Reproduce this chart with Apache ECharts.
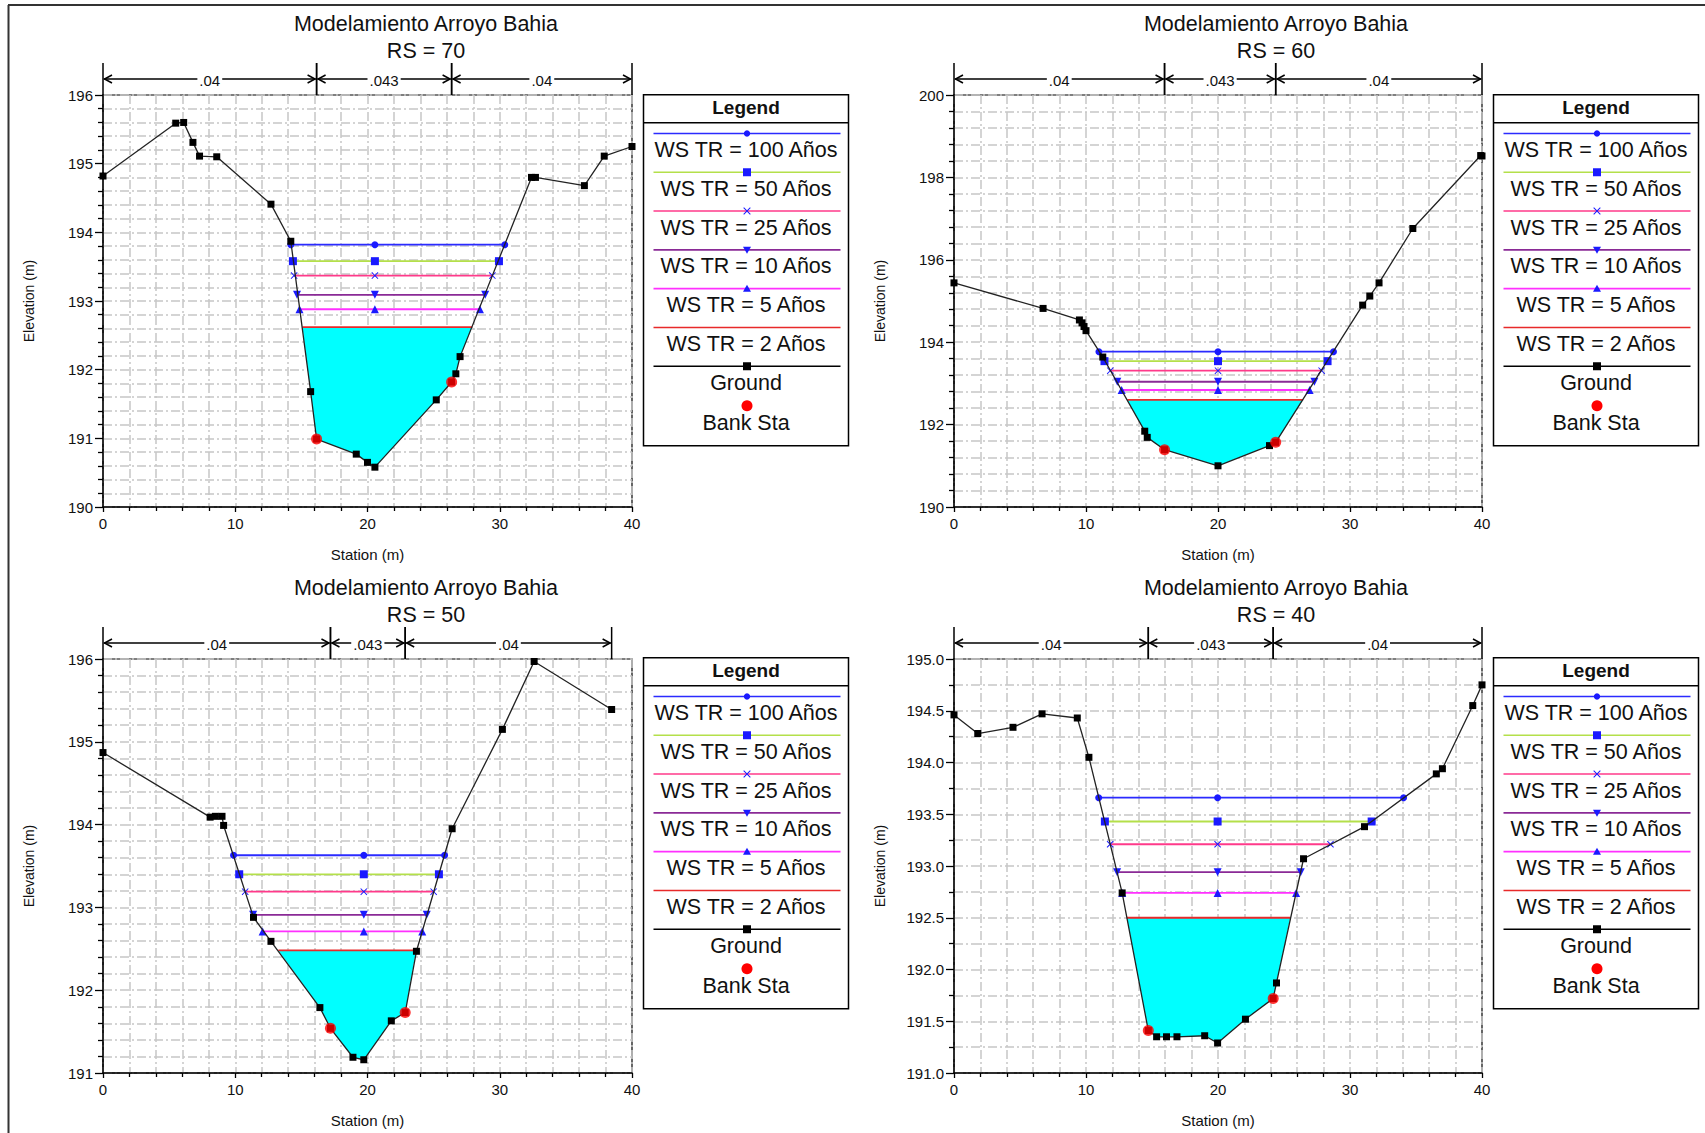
<!DOCTYPE html>
<html><head><meta charset="utf-8">
<script src="https://cdn.jsdelivr.net/npm/echarts@6/dist/echarts.min.js"></script>
<style>html,body{margin:0;padding:0;background:#fff}#c{width:1705px;height:1133px}</style>
</head><body><div id="c"></div>
<script>
// ---------------- DATA ----------------
const chartTitle = 'Modelamiento Arroyo Bahia';
const sectionNames = ['RS = 70', 'RS = 60', 'RS = 50', 'RS = 40'];
const wsNames = ['WS TR = 100 Años', 'WS TR = 50 Años', 'WS TR = 25 Años', 'WS TR = 10 Años', 'WS TR = 5 Años', 'WS TR = 2 Años'];
const groundName = 'Ground';
const bankName = 'Bank Sta';
const manningValues = ['.04', '.043', '.04'];
const xAxisName = 'Station (m)';
const yAxisName = 'Elevation (m)';

// RS = 70
const rs70GroundX = [0, 5.5, 6.1, 6.8, 7.3, 8.6, 12.7, 14.2, 15.7, 16.15, 19.15, 20.0, 20.56, 25.2, 26.36, 26.68, 27.0, 32.4, 32.7, 36.4, 37.9, 40];
const rs70GroundY = [194.82, 195.59, 195.6, 195.31, 195.11, 195.1, 194.41, 193.87, 191.68, 190.99, 190.77, 190.65, 190.58, 191.56, 191.82, 191.94, 192.19, 194.8, 194.8, 194.68, 195.11, 195.25];
const rs70BankX = [16.15, 26.36];
const rs70BankY = [190.99, 191.82];
const rs70WsLevel = [193.82, 193.58, 193.37, 193.09, 192.88, 192.62];
const rs70WsLeft = [14.2, 14.36, 14.45, 14.67, 14.86, 15.08];
const rs70WsRight = [30.38, 29.94, 29.44, 28.9, 28.5, 27.93];
const rs70WsMid = 20.56;
const rs70Manning = [0, 16.15, 26.36, 40];

// RS = 60
const rs60GroundX = [0, 6.75, 9.5, 9.7, 9.85, 10.0, 11.27, 14.45, 14.64, 15.95, 20.0, 23.9, 24.37, 30.96, 31.5, 32.2, 34.76, 39.9, 40];
const rs60GroundY = [195.44, 194.82, 194.54, 194.47, 194.38, 194.28, 193.64, 191.84, 191.69, 191.39, 191.0, 191.49, 191.57, 194.9, 195.12, 195.44, 196.76, 198.53, 198.52];
const rs60BankX = [15.95, 24.37];
const rs60BankY = [191.39, 191.57];
const rs60WsLevel = [193.77, 193.54, 193.31, 193.04, 192.84, 192.6];
const rs60WsLeft = [10.98, 11.4, 11.84, 12.37, 12.7, 13.13];
const rs60WsRight = [28.75, 28.3, 27.85, 27.3, 26.94, 26.45];
const rs60WsMid = 20.0;
const rs60Manning = [0, 15.95, 24.37, 40];

// RS = 50
const rs50GroundX = [0, 8.1, 8.5, 9.0, 9.12, 11.38, 12.7, 16.4, 17.2, 18.9, 19.72, 21.8, 22.85, 23.7, 26.4, 30.2, 32.6, 38.46];
const rs50GroundY = [194.87, 194.09, 194.1, 194.1, 193.99, 192.88, 192.59, 191.79, 191.54, 191.19, 191.16, 191.63, 191.73, 192.47, 193.95, 195.15, 195.97, 195.39];
const rs50BankX = [17.2, 22.85];
const rs50BankY = [191.54, 191.73];
const rs50WsLevel = [193.63, 193.4, 193.19, 192.91, 192.71, 192.48];
const rs50WsLeft = [9.87, 10.3, 10.75, 11.35, 12.07, 13.26];
const rs50WsRight = [25.83, 25.4, 25.0, 24.48, 24.14, 23.67];
const rs50WsMid = 19.72;
const rs50Manning = [0, 17.2, 22.85, 38.46];

// RS = 40
const rs40GroundX = [0, 1.8, 4.47, 6.67, 9.34, 10.22, 12.74, 14.72, 15.35, 16.1, 16.89, 18.99, 19.97, 22.08, 24.18, 24.43, 26.48, 31.1, 36.54, 37.0, 39.3, 40];
const rs40GroundY = [194.46, 194.28, 194.34, 194.47, 194.43, 194.05, 192.74, 191.41, 191.35, 191.35, 191.35, 191.36, 191.29, 191.52, 191.72, 191.87, 193.07, 193.38, 193.89, 193.94, 194.55, 194.75];
const rs40BankX = [14.72, 24.18];
const rs40BankY = [191.41, 191.72];
const rs40WsLevel = [193.66, 193.43, 193.21, 192.94, 192.74, 192.5];
const rs40WsLeft = [10.96, 11.43, 11.83, 12.36, 12.74, 13.1];
const rs40WsRight = [34.06, 31.64, 28.52, 26.27, 25.92, 25.47];
const rs40WsMid = 19.97;
const rs40Manning = [0, 14.72, 24.18, 40];

// axis ranges
const xMin = 0, xMax = 40, xStep = 10;
const yMins = [190, 190, 191, 191];
const yMaxs = [196, 200, 196, 195];
const ySteps = [1, 2, 1, 0.5];
const yMinorSplits = [5, 5, 5, 2];
const yDecimals = [0, 0, 0, 1];

// ---------------- STYLE / LAYOUT ----------------
const FONT = '"Liberation Sans", Arial, Helvetica, sans-serif';
const gridRects = [
  {left: 103, top: 95, width: 529, height: 412},
  {left: 954, top: 95, width: 528, height: 412},
  {left: 103, top: 659, width: 529, height: 414},
  {left: 954, top: 659, width: 528, height: 414}
];
const titleCenters = [[421, 5], [1271, 5], [421, 569], [1271, 569]];
const legendPos = [[641, 94], [1491, 94], [641, 657], [1491, 657]];
const wsLineColors = ['#2b2bff', '#b4e04a', '#ff3a8a', '#8a2a96', '#ff30ff', '#e82a2a'];
const markerBlue = '#1a1aff';
const PATH_X = 'path://M0,1L1,0L5,4L9,0L10,1L6,5L10,9L9,10L5,6L1,10L0,9L4,5Z';
const PATH_TRI_DOWN = 'path://M0,0L10,0L5,9Z';
const wsSymbols = ['circle', 'rect', PATH_X, PATH_TRI_DOWN, 'triangle', 'none'];
const wsSymbolSizes = [7, 8, 7, 8, 8, 0];
const gridLineStyle = {color: '#c6c6c6', width: 1.5, type: [9, 3, 2, 3]};

const panels = [
  {gx: rs70GroundX, gy: rs70GroundY, bx: rs70BankX, by: rs70BankY, lvl: rs70WsLevel, wl: rs70WsLeft, wr: rs70WsRight, wm: rs70WsMid, nb: rs70Manning},
  {gx: rs60GroundX, gy: rs60GroundY, bx: rs60BankX, by: rs60BankY, lvl: rs60WsLevel, wl: rs60WsLeft, wr: rs60WsRight, wm: rs60WsMid, nb: rs60Manning},
  {gx: rs50GroundX, gy: rs50GroundY, bx: rs50BankX, by: rs50BankY, lvl: rs50WsLevel, wl: rs50WsLeft, wr: rs50WsRight, wm: rs50WsMid, nb: rs50Manning},
  {gx: rs40GroundX, gy: rs40GroundY, bx: rs40BankX, by: rs40BankY, lvl: rs40WsLevel, wl: rs40WsLeft, wr: rs40WsRight, wm: rs40WsMid, nb: rs40Manning}
];

function zip(a, b) { return a.map((v, i) => [v, b[i]]); }
function wetPolygon(gx, gy, xl, xr, lvl) {
  const pts = [[xl, lvl]];
  for (let i = 0; i < gx.length; i++) if (gx[i] > xl && gx[i] < xr) pts.push([gx[i], gy[i]]);
  pts.push([xr, lvl]);
  return pts;
}

const grids = [], xAxes = [], yAxes = [], series = [], titles = [], graphics = [];

panels.forEach((p, i) => {
  grids.push(Object.assign({show: true, borderColor: '#000', borderWidth: 1.2, backgroundColor: 'transparent'}, gridRects[i]));
  titles.push({
    text: chartTitle + '\n' + sectionNames[i], left: titleCenters[i][0], top: titleCenters[i][1], textAlign: 'center',
    textStyle: {fontFamily: FONT, fontSize: 21.5, fontWeight: 'normal', color: '#111', lineHeight: 27}
  });
  xAxes.push({
    type: 'value', gridIndex: i, min: xMin, max: xMax, interval: xStep,
    name: xAxisName, nameLocation: 'middle', nameGap: 40,
    nameTextStyle: {fontFamily: FONT, fontSize: 15, color: '#111'},
    axisLine: {show: true, onZero: false, lineStyle: {color: '#000', width: 1.5}},
    axisTick: {show: true, inside: false, length: 5, lineStyle: {color: '#000', width: 1.3}},
    minorTick: {show: true, splitNumber: 5, length: 4, lineStyle: {color: '#000', width: 1.3}},
    splitLine: {show: true, lineStyle: gridLineStyle},
    minorSplitLine: {show: true, lineStyle: gridLineStyle},
    axisLabel: {fontFamily: FONT, fontSize: 15, color: '#111', margin: 9}
  });
  yAxes.push({
    type: 'value', gridIndex: i, min: yMins[i], max: yMaxs[i], interval: ySteps[i],
    name: yAxisName, nameLocation: 'middle', nameGap: 67, nameRotate: 90,
    nameTextStyle: {fontFamily: FONT, fontSize: 14, color: '#111'},
    axisLine: {show: true, onZero: false, lineStyle: {color: '#000', width: 1.5}},
    axisTick: {show: true, inside: false, length: 8, lineStyle: {color: '#000', width: 1.3}},
    minorTick: {show: true, splitNumber: yMinorSplits[i], length: 5, lineStyle: {color: '#000', width: 1.3}},
    splitLine: {show: true, lineStyle: gridLineStyle},
    minorSplitLine: {show: true, lineStyle: gridLineStyle},
    axisLabel: {fontFamily: FONT, fontSize: 15, color: '#111', margin: 10,
      formatter: v => v.toFixed(yDecimals[i])}
  });

  // wetted area of lowest water surface
  const poly = wetPolygon(p.gx, p.gy, p.wl[5], p.wr[5], p.lvl[5]);
  series.push({
    type: 'custom', xAxisIndex: i, yAxisIndex: i, data: poly, encode: {x: 0, y: 1}, silent: true, z: 1,
    renderItem: (params, api) => params.dataIndex === 0 ? {
      type: 'polygon', shape: {points: poly.map(q => api.coord(q))}, style: {fill: '#00ffff', stroke: null}
    } : null
  });

  // water surfaces
  wsNames.forEach((nm, k) => {
    series.push({
      type: 'line', name: nm, xAxisIndex: i, yAxisIndex: i, z: 3, clip: false,
      data: [[p.wl[k], p.lvl[k]], [p.wm, p.lvl[k]], [p.wr[k], p.lvl[k]]],
      symbol: wsSymbols[k], symbolSize: wsSymbolSizes[k], showSymbol: k < 5,
      lineStyle: {color: wsLineColors[k], width: 1.8},
      itemStyle: {color: markerBlue}
    });
  });

  // ground
  series.push({
    type: 'line', name: groundName, xAxisIndex: i, yAxisIndex: i, z: 4, clip: false,
    data: zip(p.gx, p.gy), symbol: 'rect', symbolSize: 7,
    lineStyle: {color: '#222', width: 1.3}, itemStyle: {color: '#000'}
  });

  // bank stations
  series.push({
    type: 'scatter', name: bankName, xAxisIndex: i, yAxisIndex: i, z: 5,
    data: zip(p.bx, p.by), symbol: 'circle', symbolSize: 11, itemStyle: {color: '#ff0000'}
  });

  // Manning's n bar
  const segs = [];
  for (let s = 0; s < p.nb.length - 1; s++) segs.push([p.nb[s], p.nb[s + 1], yMaxs[i]]);
  series.push({
    type: 'custom', xAxisIndex: i, yAxisIndex: i, data: segs, encode: {x: [0, 1], y: 2}, clip: false, silent: true, z: 6,
    renderItem: (params, api) => {
      const a = api.coord([api.value(0), api.value(2)]);
      const b = api.coord([api.value(1), api.value(2)]);
      const top = a[1], ly = top - 16;
      const st = {stroke: '#000', lineWidth: 1.5, fill: null};
      const children = [
        {type: 'line', shape: {x1: a[0], y1: top - 32, x2: a[0], y2: top}, style: st},
        {type: 'line', shape: {x1: b[0], y1: top - 32, x2: b[0], y2: top}, style: st},
        {type: 'line', shape: {x1: a[0] + 1, y1: ly, x2: b[0] - 1, y2: ly}, style: st},
        {type: 'polyline', shape: {points: [[a[0] + 9, ly - 4], [a[0] + 1.5, ly], [a[0] + 9, ly + 4]]}, style: st},
        {type: 'polyline', shape: {points: [[b[0] - 9, ly - 4], [b[0] - 1.5, ly], [b[0] - 9, ly + 4]]}, style: st},
        {type: 'text', style: {text: manningValues[params.dataIndex], x: (a[0] + b[0]) / 2, y: ly + 1,
          align: 'center', verticalAlign: 'middle', textAlign: 'center', textVerticalAlign: 'middle',
          font: '15px ' + FONT, fill: '#111', backgroundColor: '#fff', padding: [0, 2]}}
      ];
      return {type: 'group', children};
    }
  });

  // legend box
  const L = legendPos[i];
  const W = 205, H = 351;
  const ch = [];
  ch.push({type: 'rect', shape: {x: 0, y: 0, width: W, height: H}, style: {fill: '#fff', stroke: '#000', lineWidth: 1.5}});
  ch.push({type: 'text', style: {text: 'Legend', x: W / 2, y: 13, textAlign: 'center', textVerticalAlign: 'middle', align: 'center', verticalAlign: 'middle', font: 'bold 19px ' + FONT, fill: '#111'}});
  ch.push({type: 'line', shape: {x1: 0, y1: 28, x2: W, y2: 28}, style: {stroke: '#000', lineWidth: 1.5}});
  const rows = wsNames.concat([groundName]);
  const rowColors = wsLineColors.concat(['#000']);
  rows.forEach((nm, k) => {
    const y = 38.7 + k * 38.8;
    ch.push({type: 'line', shape: {x1: 10, y1: y, x2: 197, y2: y}, style: {stroke: rowColors[k], lineWidth: 1.6}});
    const cx = 103.5;
    if (k === 0) ch.push({type: 'circle', shape: {cx, cy: y, r: 3.2}, style: {fill: markerBlue}});
    if (k === 1) ch.push({type: 'rect', shape: {x: cx - 4, y: y - 4, width: 8, height: 8}, style: {fill: markerBlue}});
    if (k === 2) ch.push({type: 'polygon', shape: {points: [[cx-3,y-3.7],[cx,y-0.7],[cx+3,y-3.7],[cx+3.7,y-3],[cx+0.7,y],[cx+3.7,y+3],[cx+3,y+3.7],[cx,y+0.7],[cx-3,y+3.7],[cx-3.7,y+3],[cx-0.7,y],[cx-3.7,y-3]]}, style: {fill: markerBlue}});
    if (k === 3) ch.push({type: 'polygon', shape: {points: [[cx - 4, y - 3], [cx + 4, y - 3], [cx, y + 4]]}, style: {fill: markerBlue}});
    if (k === 4) ch.push({type: 'polygon', shape: {points: [[cx - 4, y + 3], [cx + 4, y + 3], [cx, y - 4]]}, style: {fill: markerBlue}});
    if (k === 6) ch.push({type: 'rect', shape: {x: cx - 4, y: y - 4, width: 8, height: 8}, style: {fill: '#000'}});
    ch.push({type: 'text', style: {text: nm, x: W / 2, y: y + 16.5, textAlign: 'center', textVerticalAlign: 'middle', align: 'center', verticalAlign: 'middle', font: '21.5px ' + FONT, fill: '#111'}});
  });
  ch.push({type: 'circle', shape: {cx: 103.5, cy: 311, r: 5.5}, style: {fill: '#ff0000'}});
  ch.push({type: 'text', style: {text: bankName, x: W / 2, y: 328, textAlign: 'center', textVerticalAlign: 'middle', align: 'center', verticalAlign: 'middle', font: '21.5px ' + FONT, fill: '#111'}});
  graphics.push({type: 'group', left: L[0], top: L[1], children: ch, silent: true});
});

// page frame (left and top rules)
graphics.push({type: 'line', shape: {x1: 8.5, y1: 5, x2: 8.5, y2: 1133}, style: {stroke: '#333', lineWidth: 2}, silent: true});
graphics.push({type: 'line', shape: {x1: 8, y1: 5, x2: 1705, y2: 5}, style: {stroke: '#333', lineWidth: 2}, silent: true});

const chart = echarts.init(document.getElementById('c'), null, {renderer: 'svg', width: 1705, height: 1133});
chart.setOption({
  animation: false,
  backgroundColor: '#fff',
  title: titles,
  grid: grids,
  xAxis: xAxes,
  yAxis: yAxes,
  series: series,
  graphic: graphics
});
</script>
</body></html>
